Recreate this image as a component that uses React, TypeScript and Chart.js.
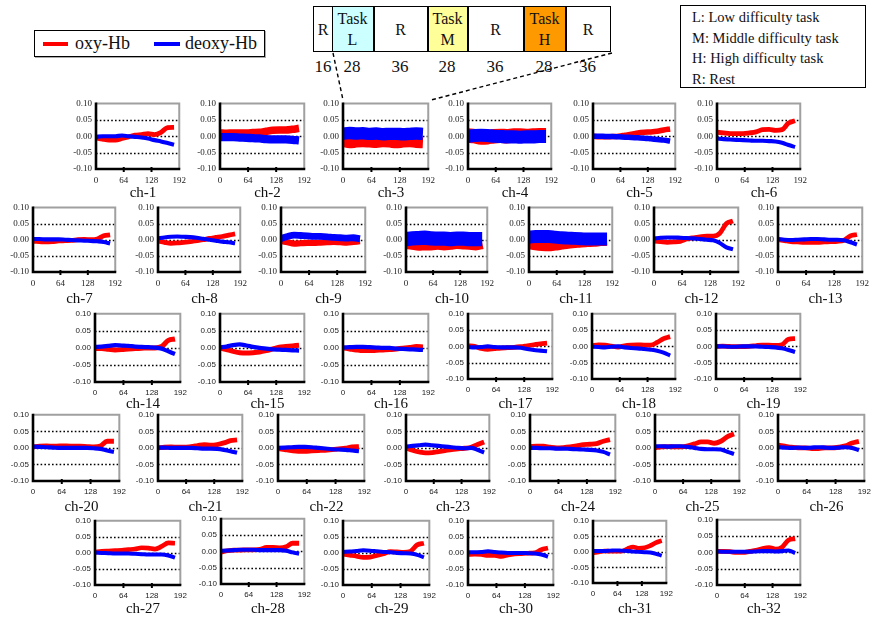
import React, { useEffect, useRef } from "react";
import { Chart, registerables } from "chart.js";
Chart.register(...registerables);

// ---------- data ----------
const TIME = [0, 15, 30, 45, 60, 75, 90, 105, 120, 135, 150, 165, 180];
const X_TICKS = [0, 64, 128, 192];
const Y_TICKS = [-0.1, -0.05, 0, 0.05, 0.1];
const DOTTED_LEVELS = [-0.05, 0, 0.05];

const oxy01 = [-0.005, -0.009, -0.012, -0.012, -0.007, -0.002, 0.003, 0.005, 0.008, 0.005, 0.012, 0.026, 0.027];
const deoxy01 = [-0.002, 0, 0, 0, 0.002, 0, -0.002, -0.004, -0.007, -0.012, -0.016, -0.021, -0.026];
const oxy02 = [0.01, 0.009, 0.01, 0.01, 0.01, 0.011, 0.012, 0.015, 0.018, 0.019, 0.019, 0.021, 0.024];
const deoxy02 = [-0.003, -0.003, -0.003, -0.004, -0.005, -0.006, -0.007, -0.009, -0.01, -0.01, -0.01, -0.011, -0.013];
const oxy03 = [-0.016, -0.02, -0.018, -0.017, -0.018, -0.019, -0.017, -0.018, -0.02, -0.018, -0.017, -0.019, -0.02];
const deoxy03 = [0.008, 0.01, 0.008, 0.009, 0.007, 0.008, 0.006, 0.007, 0.007, 0.006, 0.007, 0.008, 0.007];
const oxy04 = [0.002, 0, -0.004, -0.003, 0, 0.001, 0, 0.002, 0.002, 0.001, 0.002, 0.003, 0.003];
const deoxy04 = [0, 0.002, 0.003, 0.002, 0, -0.001, -0.002, -0.002, -0.003, -0.002, -0.002, -0.001, -0.001];
const oxy05 = [0, -0.002, -0.002, -0.001, 0, 0.003, 0.006, 0.01, 0.012, 0.013, 0.015, 0.019, 0.022];
const deoxy05 = [0, 0, -0.001, -0.001, -0.002, -0.003, -0.004, -0.005, -0.006, -0.008, -0.01, -0.012, -0.015];
const oxy06 = [0.012, 0.01, 0.008, 0.008, 0.008, 0.01, 0.013, 0.02, 0.021, 0.018, 0.02, 0.04, 0.047];
const deoxy06 = [-0.007, -0.009, -0.01, -0.011, -0.012, -0.013, -0.014, -0.014, -0.015, -0.016, -0.02, -0.027, -0.033];
const oxy07 = [-0.005, -0.006, -0.007, -0.006, -0.004, -0.003, -0.002, 0, 0.001, 0, 0.002, 0.012, 0.015];
const deoxy07 = [0.002, 0.002, 0.001, 0.001, 0.001, 0, -0.001, -0.002, -0.003, -0.004, -0.005, -0.007, -0.012];
const oxy08 = [-0.004, -0.008, -0.011, -0.01, -0.008, -0.006, -0.003, 0, 0.004, 0.007, 0.01, 0.014, 0.018];
const deoxy08 = [0.004, 0.007, 0.009, 0.01, 0.009, 0.008, 0.006, 0.003, 0, -0.003, -0.006, -0.008, -0.011];
const oxy09 = [-0.004, -0.008, -0.012, -0.011, -0.01, -0.01, -0.009, -0.008, -0.007, -0.008, -0.009, -0.007, -0.005];
const deoxy09 = [0.004, 0.01, 0.014, 0.013, 0.012, 0.01, 0.01, 0.009, 0.007, 0.006, 0.005, 0.006, 0.003];
const oxy10 = [-0.008, -0.01, -0.013, -0.012, -0.012, -0.01, -0.012, -0.01, -0.008, -0.009, -0.01, -0.012, -0.008];
const deoxy10 = [0.002, 0.004, 0.005, 0.006, 0.004, 0.003, 0.003, 0.002, 0.003, 0.003, 0.002, 0.002, 0.002];
const oxy11 = [-0.012, -0.015, -0.017, -0.018, -0.016, -0.013, -0.01, -0.008, -0.006, -0.005, -0.004, -0.002, -0.001];
const deoxy11 = [0.008, 0.01, 0.01, 0.01, 0.008, 0.006, 0.005, 0.004, 0.003, 0.002, 0.002, 0.002, 0.002];
const oxy12 = [-0.004, -0.006, -0.008, -0.007, -0.005, 0.002, 0.006, 0.009, 0.011, 0.011, 0.02, 0.05, 0.058];
const deoxy12 = [0.004, 0.006, 0.007, 0.007, 0.006, 0.005, 0.004, 0.002, 0, -0.002, -0.01, -0.024, -0.03];
const oxy13 = [0, -0.003, -0.006, -0.007, -0.008, -0.008, -0.008, -0.007, -0.006, -0.005, -0.002, 0.012, 0.016];
const deoxy13 = [0.002, 0, -0.001, 0, 0.001, 0.002, 0.002, 0.001, 0, 0, -0.002, -0.008, -0.015];
const oxy14 = [-0.002, -0.002, -0.004, -0.006, -0.005, -0.003, -0.002, -0.001, 0, 0, 0.004, 0.022, 0.026];
const deoxy14 = [0.003, 0.004, 0.006, 0.008, 0.007, 0.006, 0.004, 0.003, 0.002, 0.001, -0.002, -0.01, -0.018];
const oxy15 = [0, -0.005, -0.01, -0.014, -0.015, -0.014, -0.012, -0.008, -0.003, 0.002, 0.004, 0.006, 0.008];
const deoxy15 = [0.001, 0.004, 0.008, 0.01, 0.007, 0.003, 0, -0.002, -0.004, -0.005, -0.006, -0.007, -0.008];
const oxy16 = [0, -0.003, -0.006, -0.008, -0.008, -0.007, -0.006, -0.005, -0.003, -0.001, 0.001, 0.004, 0.003];
const deoxy16 = [0.001, 0.002, 0.003, 0.003, 0.002, 0.001, 0, 0, -0.002, -0.003, -0.004, -0.005, -0.006];
const oxy17 = [0.002, 0, -0.006, -0.009, -0.007, -0.005, -0.004, -0.003, -0.001, 0.002, 0.005, 0.008, 0.01];
const deoxy17 = [-0.002, -0.003, -0.002, 0, -0.002, -0.003, -0.003, -0.003, -0.004, -0.008, -0.011, -0.013, -0.015];
const oxy18 = [0.002, 0.005, 0.004, 0.001, -0.002, 0.002, 0.004, 0.005, 0.004, 0.004, 0.012, 0.024, 0.03];
const deoxy18 = [-0.001, -0.002, -0.003, -0.001, 0, -0.003, -0.005, -0.006, -0.008, -0.01, -0.013, -0.019, -0.028];
const oxy19 = [0, 0.001, 0, -0.001, -0.001, 0, 0.002, 0.004, 0.004, 0.003, 0.005, 0.022, 0.024];
const deoxy19 = [0, 0, -0.001, -0.001, 0, 0, 0, -0.001, -0.002, -0.003, -0.006, -0.011, -0.017];
const oxy20 = [0.003, 0.005, 0.006, 0.005, 0.006, 0.006, 0.005, 0.005, 0.004, 0.003, 0.006, 0.02, 0.02];
const deoxy20 = [0.004, 0.003, 0.002, 0.001, 0, 0, 0, 0, 0, -0.001, -0.003, -0.008, -0.012];
const oxy21 = [0, 0.002, 0.003, 0.002, 0.002, 0.004, 0.007, 0.01, 0.008, 0.01, 0.015, 0.022, 0.024];
const deoxy21 = [0.001, 0.001, 0, 0, 0, 0, -0.001, -0.002, -0.002, -0.003, -0.006, -0.01, -0.015];
const oxy22 = [-0.002, -0.005, -0.008, -0.01, -0.01, -0.009, -0.008, -0.007, -0.005, -0.003, -0.001, 0.003, 0.004];
const deoxy22 = [0, 0.001, 0.002, 0.003, 0.003, 0.002, 0, -0.002, -0.004, -0.005, -0.006, -0.008, -0.01];
const oxy23 = [0, -0.007, -0.012, -0.015, -0.014, -0.011, -0.008, -0.005, -0.003, -0.001, 0.002, 0.01, 0.018];
const deoxy23 = [0.004, 0.006, 0.008, 0.01, 0.008, 0.006, 0.004, 0.002, 0, -0.001, 0, -0.006, -0.014];
const oxy24 = [0.004, 0.005, 0.005, 0.002, 0, 0.001, 0.003, 0.006, 0.01, 0.011, 0.013, 0.02, 0.025];
const deoxy24 = [0, 0, -0.001, -0.001, -0.002, -0.002, -0.003, -0.004, -0.005, -0.006, -0.008, -0.012, -0.02];
const oxy25 = [0.001, 0.003, 0.004, 0.003, 0.003, 0.006, 0.012, 0.018, 0.018, 0.014, 0.02, 0.034, 0.042];
const deoxy25 = [0.005, 0.005, 0.004, 0.005, 0.005, 0.003, 0, -0.003, -0.004, -0.004, -0.005, -0.012, -0.018];
const oxy26 = [0.008, 0.005, 0.002, 0, 0, -0.002, -0.002, 0, 0, 0.002, 0.006, 0.015, 0.02];
const deoxy26 = [0.002, 0.001, 0, 0.001, 0, 0.001, 0.002, 0.001, 0, 0.001, 0.002, 0, -0.007];
const oxy27 = [0.002, 0.005, 0.006, 0.007, 0.008, 0.01, 0.012, 0.016, 0.015, 0.012, 0.02, 0.031, 0.03];
const deoxy27 = [0.001, 0, -0.001, -0.002, -0.002, -0.002, -0.003, -0.004, -0.005, -0.005, -0.005, -0.008, -0.015];
const oxy28 = [-0.002, 0.002, 0.004, 0.004, 0.005, 0.005, 0.006, 0.012, 0.012, 0.011, 0.014, 0.025, 0.025];
const deoxy28 = [0.002, 0.003, 0.004, 0.005, 0.005, 0.005, 0.004, 0.004, 0.004, 0.004, 0.002, -0.003, -0.007];
const oxy29 = [-0.004, -0.007, -0.01, -0.014, -0.013, -0.008, -0.003, 0.004, 0.003, 0.002, 0.005, 0.025, 0.03];
const deoxy29 = [0.003, 0.004, 0.006, 0.008, 0.007, 0.005, 0.003, 0.002, 0, -0.001, -0.002, -0.006, -0.014];
const oxy30 = [-0.005, -0.004, -0.005, -0.008, -0.008, -0.011, -0.006, -0.003, -0.002, -0.001, 0, 0.01, 0.015];
const deoxy30 = [0.002, 0.002, 0.003, 0.005, 0.003, 0.001, 0, 0, 0, -0.001, -0.002, -0.005, -0.012];
const oxy31 = [-0.003, 0, 0.003, 0.002, 0.002, 0.002, 0.01, 0.016, 0.012, 0.013, 0.02, 0.03, 0.036];
const deoxy31 = [0.003, 0.003, 0.003, 0.004, 0.005, 0.004, 0.003, 0.001, 0, -0.001, -0.002, -0.006, -0.012];
const oxy32 = [0.003, 0.003, 0.002, 0, 0, 0.003, 0.006, 0.012, 0.015, 0.01, 0.016, 0.038, 0.042];
const deoxy32 = [0.003, 0.002, 0.002, 0.002, 0.002, 0.002, 0.003, 0.004, 0.004, 0.003, 0.004, 0.006, -0.002];

const OXY = [oxy01, oxy02, oxy03, oxy04, oxy05, oxy06, oxy07, oxy08, oxy09, oxy10, oxy11, oxy12, oxy13, oxy14, oxy15, oxy16,
  oxy17, oxy18, oxy19, oxy20, oxy21, oxy22, oxy23, oxy24, oxy25, oxy26, oxy27, oxy28, oxy29, oxy30, oxy31, oxy32];
const DEOXY = [deoxy01, deoxy02, deoxy03, deoxy04, deoxy05, deoxy06, deoxy07, deoxy08, deoxy09, deoxy10, deoxy11, deoxy12,
  deoxy13, deoxy14, deoxy15, deoxy16, deoxy17, deoxy18, deoxy19, deoxy20, deoxy21, deoxy22, deoxy23, deoxy24, deoxy25,
  deoxy26, deoxy27, deoxy28, deoxy29, deoxy30, deoxy31, deoxy32];

// half-spread of the noisy trace (in signal units), per channel
const OXY_SPREAD = [0.007, 0.011, 0.016, 0.021, 0.008, 0.007, 0.007, 0.007, 0.009, 0.02, 0.017, 0.007, 0.007, 0.007, 0.007, 0.007,
  0.007, 0.007, 0.007, 0.007, 0.007, 0.007, 0.007, 0.007, 0.007, 0.007, 0.007, 0.007, 0.007, 0.007, 0.007, 0.007];
const DEOXY_SPREAD = [0.006, 0.012, 0.018, 0.019, 0.008, 0.006, 0.006, 0.006, 0.01, 0.021, 0.019, 0.006, 0.006, 0.006, 0.006, 0.006,
  0.006, 0.006, 0.006, 0.006, 0.006, 0.006, 0.006, 0.006, 0.006, 0.006, 0.006, 0.006, 0.006, 0.006, 0.006, 0.006];

const CHANNEL_NAMES = ["ch-1", "ch-2", "ch-3", "ch-4", "ch-5", "ch-6", "ch-7", "ch-8", "ch-9", "ch-10", "ch-11", "ch-12", "ch-13",
  "ch-14", "ch-15", "ch-16", "ch-17", "ch-18", "ch-19", "ch-20", "ch-21", "ch-22", "ch-23", "ch-24", "ch-25", "ch-26", "ch-27",
  "ch-28", "ch-29", "ch-30", "ch-31", "ch-32"];
const SERIES_NAMES = ["oxy-Hb", "deoxy-Hb"];
const PHASE_LABELS = [["R"], ["Task", "L"], ["R"], ["Task", "M"], ["R"], ["Task", "H"], ["R"]];
const PHASE_DURATIONS = ["16", "28", "36", "28", "36", "28", "36"];
const KEY_LINES = ["L: Low difficulty task", "M: Middle difficulty task", "H: High difficulty task", "R: Rest"];

// ---------- layout ----------
// plot area [left, top, right, bottom, row]
const PLOTS: number[][] = [
  [96, 100, 182, 169, 0], [220, 100, 307, 169, 0], [343, 100, 431, 169, 0], [468, 100, 554, 169, 0], [593, 100, 678, 169, 0], [717, 100, 803, 169, 0],
  [33, 204, 118, 272, 1], [158, 204, 243, 272, 1], [281, 204, 368, 272, 1], [406, 204, 490, 272, 1], [529, 204, 615, 272, 1], [654, 204, 741, 272, 1], [778, 204, 865, 272, 1],
  [95, 311, 183, 382, 2], [220, 311, 307, 382, 2], [343, 311, 431, 382, 2], [468, 311, 555, 379, 2], [592, 311, 678, 379, 2], [716, 311, 803, 379, 2],
  [33, 412, 122, 481, 3], [158, 412, 245, 481, 3], [278, 412, 367, 481, 3], [406, 412, 492, 481, 3], [530, 412, 618, 481, 3], [655, 412, 742, 481, 3], [778, 412, 867, 481, 3],
  [95, 518, 183, 585, 4], [221, 516, 307, 584, 4], [343, 518, 432, 585, 4], [468, 518, 556, 585, 4], [593, 518, 669, 583, 4], [717, 517, 803, 585, 4],
];
const TITLE_Y = [192, 298, 403, 506, 608];
const PHASE_EDGES = [313, 333, 375, 429, 469, 525, 567, 612];
const PHASE_COLORS = ["#ffffff", "#ccffff", "#ffffff", "#ffff99", "#ffffff", "#ff9900", "#ffffff"];

const framePlugin = {
  id: "frame",
  beforeDatasetsDraw(chart: any) {
    const { ctx, chartArea: a, scales } = chart;
    const y = scales.y;
    ctx.save();
    ctx.strokeStyle = "#000";
    ctx.lineWidth = 1.4;
    ctx.setLineDash([1.6, 2.2]);
    for (const v of DOTTED_LEVELS) {
      const py = Math.round(y.getPixelForValue(v)) + 0.5;
      ctx.beginPath();
      ctx.moveTo(a.left, py);
      ctx.lineTo(a.right, py);
      ctx.stroke();
    }
    ctx.restore();
  },
  afterDatasetsDraw(chart: any) {
    const { ctx, chartArea: a, scales } = chart;
    ctx.save();
    ctx.strokeStyle = "#a0a0a0";
    ctx.lineWidth = 2;
    ctx.beginPath();
    ctx.moveTo(a.left, a.top);
    ctx.lineTo(a.right, a.top);
    ctx.lineTo(a.right, a.bottom);
    ctx.stroke();
    ctx.strokeStyle = "#000";
    ctx.lineWidth = 2.6;
    ctx.beginPath();
    ctx.moveTo(a.left, a.top - 1);
    ctx.lineTo(a.left, a.bottom);
    ctx.lineTo(a.right + 1, a.bottom);
    ctx.stroke();
    ctx.lineWidth = 2;
    for (const v of X_TICKS.slice(1, -1)) {
      const px = scales.x.getPixelForValue(v);
      ctx.beginPath();
      ctx.moveTo(px, a.bottom - 2);
      ctx.lineTo(px, a.bottom + 3);
      ctx.stroke();
    }
    ctx.restore();
  },
};

const YW = 30, PL = 2, PR = 10, PT = 6, XH = 22;

function SmallChart({ i }: { i: number }) {
  const ref = useRef<HTMLCanvasElement>(null);
  const [L, T, R, B, row] = PLOTS[i];
  const w = R - L + YW + PL + PR;
  const h = B - T + PT + XH;
  useEffect(() => {
    const serif = row < 2;
    const font = { family: serif ? "'Liberation Serif', serif" : "'Liberation Sans', Arial, sans-serif", size: serif ? 9 : 8 };
    const pxPerUnit = (B - T) / 0.2;
    const noGrid = { display: false, drawTicks: false, tickLength: 0 };
    const chart = new Chart(ref.current as HTMLCanvasElement, {
      type: "line",
      data: {
        datasets: [
          {
            label: SERIES_NAMES[1],
            data: TIME.map((t, k) => ({ x: t, y: DEOXY[i][k] })),
            borderColor: "#0000ff",
            borderWidth: 2 * DEOXY_SPREAD[i] * pxPerUnit,
            pointRadius: 0,
            cubicInterpolationMode: "monotone",
            borderCapStyle: "butt",
            fill: false,
          },
          {
            label: SERIES_NAMES[0],
            data: TIME.map((t, k) => ({ x: t, y: OXY[i][k] })),
            borderColor: "#ff0000",
            borderWidth: 2 * OXY_SPREAD[i] * pxPerUnit,
            pointRadius: 0,
            cubicInterpolationMode: "monotone",
            borderCapStyle: "butt",
            fill: false,
          },
        ],
      },
      options: {
        responsive: false,
        animation: false,
        events: [],
        layout: { padding: { left: PL, right: PR, top: PT, bottom: 0 } },
        plugins: { legend: { display: false }, tooltip: { enabled: false } },
        scales: {
          x: {
            type: "linear",
            min: 0,
            max: 192,
            afterBuildTicks: (s: any) => { s.ticks = X_TICKS.map((v) => ({ value: v })); },
            afterFit: (s: any) => { s.height = XH; },
            grid: noGrid,
            border: { display: false },
            ticks: { padding: 6, font, color: "#222", maxRotation: 0, minRotation: 0, autoSkip: false },
          },
          y: {
            type: "linear",
            min: -0.1,
            max: 0.1,
            afterBuildTicks: (s: any) => { s.ticks = Y_TICKS.map((v) => ({ value: v })); },
            afterFit: (s: any) => { s.width = YW; },
            grid: noGrid,
            border: { display: false },
            ticks: {
              padding: 4,
              font,
              color: "#222",
              autoSkip: false,
              callback: (v: any) => { const n = Number(v); return (Math.abs(n) < 1e-9 ? 0 : n).toFixed(2); },
            },
          },
        },
      } as any,
      plugins: [framePlugin],
    });
    return () => chart.destroy();
  }, []);
  return (
    <>
      <canvas ref={ref} width={w} height={h}
        style={{ position: "absolute", left: L - YW - PL, top: T - PT, width: w, height: h }} />
      <div style={{
        position: "absolute", left: (L + R) / 2 + 4, top: TITLE_Y[row], transform: "translate(-50%, -50%)",
        font: "15px 'Liberation Serif', serif", color: "#111", whiteSpace: "nowrap", lineHeight: "15px",
      }}>{CHANNEL_NAMES[i]}</div>
    </>
  );
}

export default function App() {
  const serif = "'Liberation Serif', serif";
  return (
    <div style={{ position: "absolute", left: 0, top: 0, width: 872, height: 618, background: "#fff", overflow: "hidden", fontFamily: serif }}>
      {/* series legend */}
      <div style={{ position: "absolute", left: 34, top: 30, width: 229, height: 25, border: "1.5px solid #000", boxShadow: "1px 1px 0 #aaa" }}>
        <div style={{ position: "absolute", left: 8, top: 11, width: 25, height: 4, background: "#ff0000" }} />
        <div style={{ position: "absolute", left: 40, top: 1, font: `18px ${serif}`, lineHeight: "22px", color: "#111" }}>{SERIES_NAMES[0]}</div>
        <div style={{ position: "absolute", left: 119, top: 11, width: 26, height: 4, background: "#0000ff" }} />
        <div style={{ position: "absolute", left: 150, top: 1, font: `18px ${serif}`, lineHeight: "22px", color: "#111" }}>{SERIES_NAMES[1]}</div>
      </div>
      {/* timeline */}
      {PHASE_LABELS.map((lab, k) => (
        <div key={k} style={{
          position: "absolute", left: PHASE_EDGES[k], top: 6, width: PHASE_EDGES[k + 1] - PHASE_EDGES[k], height: 46,
          boxSizing: "border-box", border: "1.5px solid #000", marginLeft: k === 0 ? 0 : -1.5, background: PHASE_COLORS[k],
          display: "flex", flexDirection: "column", alignItems: "center", justifyContent: "center",
          font: `16px ${serif}`, lineHeight: "21px", color: "#111",
        }}>
          {lab.map((t, j) => <div key={j}>{t}</div>)}
        </div>
      ))}
      {PHASE_DURATIONS.map((d, k) => (
        <div key={k} style={{
          position: "absolute", left: (PHASE_EDGES[k] + PHASE_EDGES[k + 1]) / 2 - (k === 0 ? 0 : 2), top: 66,
          transform: "translate(-50%, -50%)", font: `17px ${serif}`, color: "#111", lineHeight: "17px",
        }}>{d}</div>
      ))}
      {/* key box */}
      <div style={{ position: "absolute", left: 680, top: 5, width: 186, height: 83, boxSizing: "border-box", border: "1.5px solid #000" }}>
        {KEY_LINES.map((t, k) => (
          <div key={k} style={{ position: "absolute", left: 11, top: 2 + k * 20.7, font: `14.5px ${serif}`, lineHeight: "18px", color: "#111", whiteSpace: "nowrap" }}>{t}</div>
        ))}
      </div>
      {/* zoom guides */}
      <svg width={872} height={618} style={{ position: "absolute", left: 0, top: 0, pointerEvents: "none" }}>
        <line x1={333} y1={53} x2={343} y2={100} stroke="#000" strokeWidth={1.4} strokeDasharray="4 3" />
        <line x1={612} y1={53} x2={431} y2={100} stroke="#000" strokeWidth={1.4} strokeDasharray="4 3" />
      </svg>
      {PLOTS.map((_, i) => <SmallChart key={i} i={i} />)}
    </div>
  );
}
